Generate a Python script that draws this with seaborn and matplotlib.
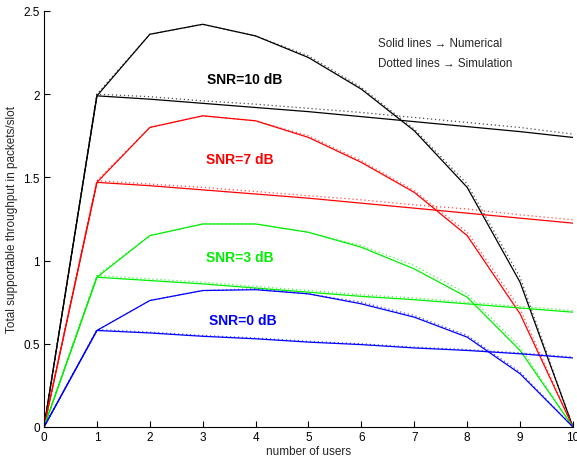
import numpy as np
import pandas as pd
import matplotlib
matplotlib.use("Agg")
import matplotlib.pyplot as plt
import seaborn as sns

users = [0, 1, 2, 3, 4, 5, 6, 7, 8, 9, 10]

# Numerical (solid) - peaked curves
num_peak_10 = [0, 1.99, 2.36, 2.42, 2.35, 2.22, 2.03, 1.78, 1.44, 0.87, 0]
num_peak_7 = [0, 1.47, 1.80, 1.87, 1.84, 1.74, 1.59, 1.41, 1.15, 0.68, 0]
num_peak_3 = [0, 0.90, 1.15, 1.22, 1.22, 1.17, 1.08, 0.95, 0.78, 0.46, 0]
num_peak_0 = [0, 0.58, 0.76, 0.82, 0.825, 0.80, 0.74, 0.66, 0.54, 0.32, 0]
# Numerical (solid) - flat curves
num_flat_10 = [0, 1.99, 1.97, 1.945, 1.92, 1.895, 1.865, 1.835, 1.805, 1.775, 1.74]
num_flat_7 = [0, 1.47, 1.45, 1.425, 1.40, 1.375, 1.345, 1.315, 1.285, 1.255, 1.225]
num_flat_3 = [0, 0.90, 0.88, 0.86, 0.835, 0.81, 0.785, 0.765, 0.74, 0.715, 0.69]
num_flat_0 = [0, 0.58, 0.565, 0.545, 0.53, 0.51, 0.495, 0.475, 0.46, 0.44, 0.415]

# Simulation (dotted)
sim_peak_10 = [0, 2.00, 2.36, 2.42, 2.35, 2.23, 2.04, 1.79, 1.46, 0.90, 0]
sim_peak_7 = [0, 1.48, 1.80, 1.87, 1.84, 1.75, 1.60, 1.42, 1.17, 0.71, 0]
sim_peak_3 = [0, 0.91, 1.15, 1.22, 1.22, 1.17, 1.09, 0.97, 0.80, 0.48, 0]
sim_peak_0 = [0, 0.58, 0.76, 0.82, 0.83, 0.80, 0.75, 0.67, 0.55, 0.33, 0]
sim_flat_10 = [0, 2.00, 1.985, 1.96, 1.94, 1.915, 1.89, 1.86, 1.83, 1.80, 1.76]
sim_flat_7 = [0, 1.48, 1.46, 1.44, 1.415, 1.39, 1.365, 1.335, 1.31, 1.275, 1.245]
sim_flat_3 = [0, 0.91, 0.89, 0.87, 0.845, 0.82, 0.795, 0.775, 0.75, 0.725, 0.70]
sim_flat_0 = [0, 0.585, 0.57, 0.55, 0.535, 0.515, 0.50, 0.48, 0.465, 0.445, 0.42]

snr_labels = ["SNR=10 dB", "SNR=7 dB", "SNR=3 dB", "SNR=0 dB"]
snr_colors = ["#000000", "#ff0000", "#00ee00", "#0000ff"]
label_x = [3.8, 3.7, 3.7, 3.75]
label_y = [2.09, 1.61, 1.02, 0.64]

sns.set_style("white")
plt.rcParams['font.family'] = ['Liberation Sans', 'DejaVu Sans']

fig = plt.figure(figsize=(5.77, 4.64), dpi=100)
ax = fig.add_axes([0.0763, 0.0776, 0.9167, 0.8966])

num = [(num_peak_10, num_flat_10), (num_peak_7, num_flat_7),
       (num_peak_3, num_flat_3), (num_peak_0, num_flat_0)]
sim = [(sim_peak_10, sim_flat_10), (sim_peak_7, sim_flat_7),
       (sim_peak_3, sim_flat_3), (sim_peak_0, sim_flat_0)]

for i, c in enumerate(snr_colors):
    for curve in sim[i]:
        df = pd.DataFrame({"x": users, "y": curve})
        sns.lineplot(data=df, x="x", y="y", ax=ax, color=c, lw=0.9,
                     linestyle=(0, (1, 2.2)), alpha=0.7)
    for curve in num[i]:
        df = pd.DataFrame({"x": users, "y": curve})
        sns.lineplot(data=df, x="x", y="y", ax=ax, color=c, lw=0.9)
    ax.text(label_x[i], label_y[i], snr_labels[i], color=c, fontsize=10,
            fontweight='bold', ha='center', va='center')

ax.text(6.31, 2.31, "Solid lines \u2192 Numerical", fontsize=8.4, ha='left', va='center')
ax.text(6.31, 2.19, "Dotted lines \u2192 Simulation", fontsize=8.4, ha='left', va='center')

ax.set_xlim(0, 10)
ax.set_ylim(0, 2.5)
ax.set_xticks(range(0, 11))
ax.set_yticks([0, 0.5, 1, 1.5, 2, 2.5])
ax.set_yticklabels(["0", "0.5", "1", "1.5", "2", "2.5"])
ax.set_xlabel("number of users", fontsize=8.5, labelpad=1)
ax.set_ylabel("Total supportable throughput in packets/slot", fontsize=8.5, labelpad=4)
ax.tick_params(direction='in', length=4, width=0.8, labelsize=8.5, pad=3,
               left=True, bottom=True, colors='black')
for s in ['top', 'right']:
    ax.spines[s].set_visible(False)
for s in ['left', 'bottom']:
    ax.spines[s].set_color('black')
    ax.spines[s].set_linewidth(0.8)

fig.savefig("out.png", dpi=100)
